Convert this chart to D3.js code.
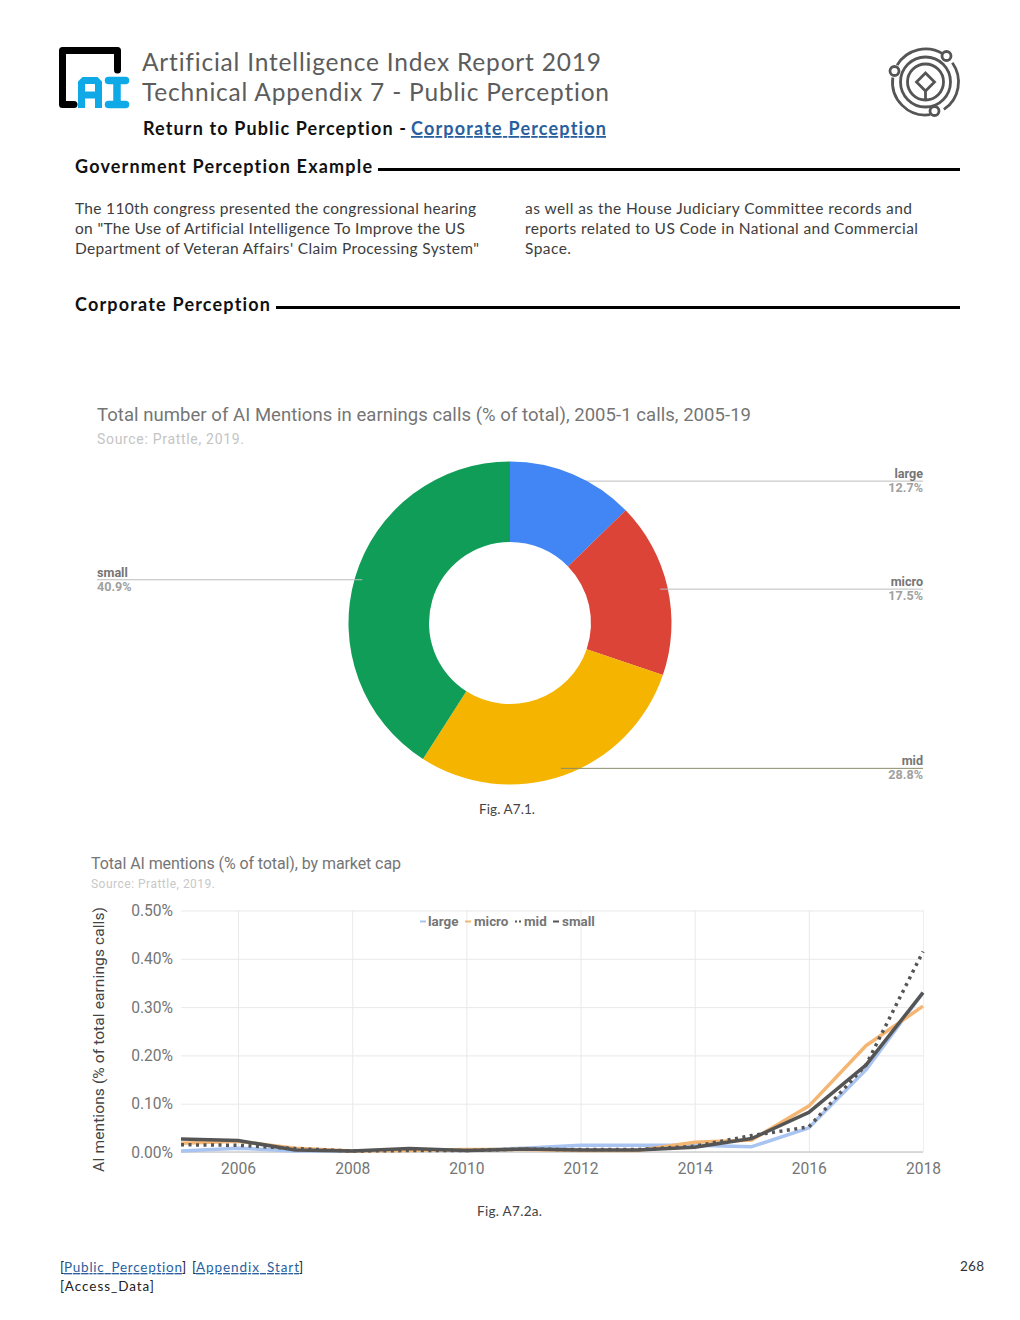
<!DOCTYPE html>
<html><head><meta charset="utf-8">
<script src="https://cdn.jsdelivr.net/npm/d3@7/dist/d3.min.js"></script>
<style>html,body{margin:0;padding:0;background:#fff}svg{display:block;font-variant-ligatures:none}</style>
</head><body><svg id="page" width="1020" height="1320"></svg>
<script>
// Data
const donutCategories = ["large","micro","mid","small"];
const donutValues = [12.7,17.5,28.8,40.9];
const donutColors = ["#4285f4","#db4437","#f4b400","#0f9d58"];
const years = [2005,2006,2007,2008,2009,2010,2011,2012,2013,2014,2015,2016,2017,2018];
const large = [0.002,0.008,0.002,0.002,0.004,0.003,0.008,0.014,0.014,0.014,0.011,0.050,0.170,0.330];
const micro = [0.018,0.022,0.008,0.002,0.003,0.005,0.005,0.003,0.003,0.020,0.025,0.095,0.220,0.302];
const mid   = [0.015,0.014,0.007,0.002,0.003,0.003,0.006,0.005,0.005,0.012,0.034,0.052,0.180,0.415];
const small = [0.027,0.024,0.004,0.002,0.007,0.003,0.006,0.004,0.004,0.010,0.028,0.082,0.180,0.330];
const yTicks = [0,0.1,0.2,0.3,0.4,0.5];
const xTicks = [2006,2008,2010,2012,2014,2016,2018];

const svg = d3.select("#page");
const HF = "Lato, 'Open Sans', sans-serif", CF = "Roboto, sans-serif";
function text(x,y,s,o={}){
  const t = svg.append("text").attr("x",x).attr("y",y).text(s)
    .attr("font-family",o.f||HF).attr("font-size",o.s||15).attr("fill",o.c||"#333")
    .attr("font-weight",o.w||400).attr("text-anchor",o.a||"start");
  if(o.l) t.attr("textLength",o.l).attr("lengthAdjust","spacing");
  if(o.u) t.attr("text-decoration","underline");
  return t;
}

// Logo
svg.append("path").attr("d","M117.5 70V50.5H62.5V104.5H74").attr("fill","none").attr("stroke","#000").attr("stroke-width",7).attr("stroke-linejoin","round").attr("stroke-linecap","round");
svg.append("path").attr("d","M81.5 108V83L84 80.5H96L98.5 83V108M81.5 95H98.5").attr("fill","none").attr("stroke","#0fa9e8").attr("stroke-width",7);
svg.append("path").attr("d","M108.5 80.5H125.5M117 80.5V104.5M108.5 104.5H125.5").attr("fill","none").attr("stroke","#0fa9e8").attr("stroke-width",7.5).attr("stroke-linecap","round");

// Top-right emblem
const em = svg.append("g").attr("transform","translate(925.5,82)").attr("fill","none").attr("stroke","#555").attr("stroke-width",2.8);
em.append("path").attr("d",d3.arc()({innerRadius:33,outerRadius:33,startAngle:0.95,endAngle:2.55}));
em.append("path").attr("d",d3.arc()({innerRadius:33,outerRadius:33,startAngle:3.0,endAngle:4.85}));
em.append("path").attr("d",d3.arc()({innerRadius:33,outerRadius:33,startAngle:5.25,endAngle:6.85}));
[25,18].forEach(r=>em.append("circle").attr("r",r));
em.append("path").attr("d","M0 -9L9 0L0 9L-9 0ZM0 9V18");
[[21,-26],[-31,-11],[9,29]].forEach(p=>em.append("circle").attr("cx",p[0]).attr("cy",p[1]).attr("r",4.5).attr("fill","#fff"));

// Header text
text(142,71,"Artificial Intelligence Index Report 2019",{s:24.5,c:"#5c5c5c",l:459});
text(142,101,"Technical Appendix 7 - Public Perception",{s:24.5,c:"#5c5c5c",l:467});
text(143,135,"Return to Public Perception - ",{s:18,c:"#111",w:700,l:263});
text(411,135,"Corporate Perception",{s:18,c:"#2a5f9e",w:700,l:195,u:1});

// Sections
text(75,173,"Government Perception Example",{s:18,c:"#111",w:700,l:297});
svg.append("rect").attr("x",378).attr("y",168).attr("width",582).attr("height",3).attr("fill","#000");
text(75,311,"Corporate Perception",{s:18,c:"#111",w:700,l:195});
svg.append("rect").attr("x",276).attr("y",306).attr("width",684).attr("height",3).attr("fill","#000");

[["The 110th congress presented the congressional hearing",213.5,401],
 ["on \"The Use of Artificial Intelligence To Improve the US",233.5,390],
 ["Department of Veteran Affairs' Claim Processing System\"",253.5,404]]
 .forEach(d=>text(75,d[1],d[0],{s:15.5,c:"#3d3d3d",l:d[2]}));
[["as well as the House Judiciary Committee records and",213.5,387],
 ["reports related to US Code in National and Commercial",233.5,393],
 ["Space.",253.5,46]]
 .forEach(d=>text(525,d[1],d[0],{s:15.5,c:"#3d3d3d",l:d[2]}));

// Donut chart
text(97,421,"Total number of AI Mentions in earnings calls (% of total), 2005-1 calls, 2005-19",{f:CF,s:18.5,c:"#757575",l:654});
text(97,444,"Source: Prattle, 2019.",{f:CF,s:14,c:"#c4c4c4",l:147});
const cx=510, cy=623, outer=161.5, inner=81;
const pie = d3.pie().sort(null)(donutValues);
const arc = d3.arc().innerRadius(inner).outerRadius(outer);
const leaderR = 154;
function leader(d,i){
  const a=(d.startAngle+d.endAngle)/2;
  const px=cx+leaderR*Math.sin(a), py=cy-leaderR*Math.cos(a);
  const left = a>Math.PI;
  svg.append("line").attr("x1",px).attr("y1",py).attr("x2",left?97:923).attr("y2",py)
    .attr("stroke",i===2?"#8d8d6a":"#bdbdbd").attr("stroke-width",1);
  return {py,left};
}
// the "large" leader reads as running behind its slice; the others cross on top
const geo = [];
geo[0] = leader(pie[0],0);
const dg = svg.append("g").attr("transform",`translate(${cx},${cy})`);
dg.selectAll("path").data(pie).join("path").attr("d",arc).attr("fill",(d,i)=>donutColors[i]);
[1,2,3].forEach(i=>{geo[i]=leader(pie[i],i);});
pie.forEach((d,i)=>{
  const {py,left}=geo[i];
  const tx = left?97:923, an = left?"start":"end";
  text(tx,py-3,donutCategories[i],{f:CF,s:12.6,c:"#757575",w:700,a:an});
  text(tx,py+11,d.data.toFixed(1)+"%",{f:CF,s:12.6,c:"#a0a0a0",w:700,a:an});
});
text(479,814,"Fig. A7.1.",{s:13.5,c:"#444",l:56});

// Line chart
text(91,869,"Total AI mentions (% of total), by market cap",{f:CF,s:16,c:"#757575",l:310});
text(91,888,"Source: Prattle, 2019.",{f:CF,s:12,c:"#c8c8c8",l:124});
const x = d3.scaleLinear().domain([2005,2018]).range([181,923]);
const y = d3.scaleLinear().domain([0,0.5]).range([1152,910.5]);
const gy = svg.append("g").attr("transform","translate(181,0)")
  .call(d3.axisLeft(y).tickValues(yTicks).tickSize(-742).tickPadding(8).tickFormat(d=>d3.format(".2f")(d)+"%"));
const gx = svg.append("g").attr("transform","translate(0,1152)")
  .call(d3.axisBottom(x).tickValues(xTicks).tickSize(-241.5).tickPadding(10.5).tickFormat(d3.format("d")));
[gy,gx].forEach(g=>{
  g.select(".domain").remove();
  g.selectAll("line").attr("stroke","#e9e9e9");
  g.selectAll("text").attr("font-family",CF).attr("font-size",15.6).attr("fill","#757575");
});
svg.append("line").attr("x1",181).attr("x2",923).attr("y1",1152).attr("y2",1152).attr("stroke","#cfcfcf").attr("stroke-width",1.5);
svg.append("line").attr("x1",923.5).attr("x2",923.5).attr("y1",910).attr("y2",1152).attr("stroke","#eeeeee");

const line = d3.line().x((d,i)=>x(years[i])).y(d=>y(d));
const seriesStyles = [
  {name:"large",values:large,color:"#a9c4f0",w:3.5,dash:null},
  {name:"micro",values:micro,color:"#f5b673",w:3.5,dash:null},
  {name:"mid",values:mid,color:"#555555",w:3.5,dash:"3 4.5"},
  {name:"small",values:small,color:"#555555",w:3.5,dash:null}
];
seriesStyles.forEach(s=>{
  const p = svg.append("path").attr("d",line(s.values)).attr("fill","none")
    .attr("stroke",s.color).attr("stroke-width",s.w).attr("stroke-linejoin","round");
  if(s.dash) p.attr("stroke-dasharray",s.dash);
});

// Legend
const legendX = [[420,428],[465,474],[515,524],[553,562]];
seriesStyles.forEach((s,i)=>{
  const [sx,tx]=legendX[i];
  const l = svg.append("line").attr("x1",sx).attr("x2",sx+6).attr("y1",921.5).attr("y2",921.5)
    .attr("stroke",s.color).attr("stroke-width",2);
  if(s.dash) l.attr("stroke-dasharray","2 2");
  text(tx,926,s.name,{f:CF,s:13.4,c:"#757575",w:700});
});

// Y axis title
svg.append("text").attr("transform","translate(103.5,1039.5) rotate(-90)").attr("text-anchor","middle")
  .attr("font-family",CF).attr("font-size",15.5).attr("fill","#444")
  .attr("textLength",265).attr("lengthAdjust","spacing")
  .text("AI mentions (% of total earnings calls)");
text(477,1216,"Fig. A7.2a.",{s:13.5,c:"#444",l:65});

// Footer
text(60,1272,"[",{s:13.5,c:"#222"});
text(64,1272,"Public_Perception",{s:13.5,c:"#2a5f9e",u:1,l:118});
text(182,1272,"]",{s:13.5,c:"#222"});
text(192,1272,"[",{s:13.5,c:"#222"});
text(196,1272,"Appendix_Start",{s:13.5,c:"#2a5f9e",u:1,l:103});
text(299,1272,"]",{s:13.5,c:"#222"});
text(60,1291,"[Access_Data]",{s:13.5,c:"#222",l:94});
text(960,1271,"268",{s:13.5,c:"#333",l:24});
</script></body></html>
